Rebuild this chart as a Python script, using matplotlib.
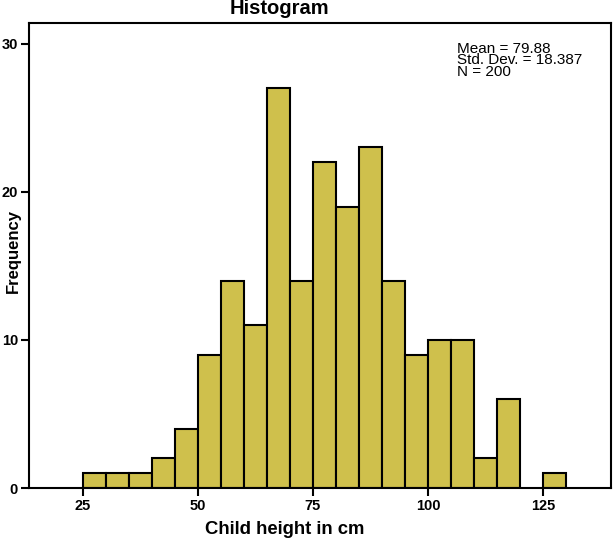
import matplotlib
matplotlib.use('Agg')
import matplotlib.pyplot as plt
import numpy as np

plt.rcParams['font.family'] = ['Liberation Sans', 'DejaVu Sans']

# bin left edges (width 5) and counts
bin_edges = [25, 30, 35, 40, 45, 50, 55, 60, 65, 70, 75, 80, 85, 90, 95, 100,
             105, 110, 115, 120, 125, 130]
counts = [1, 1, 1, 2, 4, 9, 14, 11, 27, 14, 22, 19, 23, 14, 9, 10, 10, 2, 6, 0, 1]
x_ticks = [25, 50, 75, 100, 125]
y_ticks = [0, 10, 20, 30]
stats_text = 'Mean = 79.88\nStd. Dev. = 18.387\nN = 200'

fig = plt.figure(figsize=(6.14, 5.39), dpi=100)
ax = fig.add_axes([29 / 614, 51 / 539, 582 / 614, 465 / 539])

left = np.array(bin_edges[:-1])
widths = np.diff(bin_edges)
heights = np.array(counts)
mask = heights > 0
ax.bar(left[mask], heights[mask], width=widths[mask], align='edge',
       color='#CFC04C', edgecolor='black', linewidth=1.5, zorder=2)

ax.set_xlim(13.3, 139.8)
ax.set_ylim(0, 31.4)
ax.set_xticks(x_ticks)
ax.set_yticks(y_ticks)
ax.tick_params(axis='both', direction='out', length=6, width=1.5,
               labelsize=10.5, pad=2)
for lbl in ax.get_xticklabels() + ax.get_yticklabels():
    lbl.set_fontweight('bold')
for s in ax.spines.values():
    s.set_linewidth(1.5)

# summary statistics box (SPSS style)
fig.text(457 / 614, 1 - 42 / 539, stats_text, fontsize=11, va='top',
         ha='left', linespacing=0.75)

fig.text(279 / 614, 1 - 9 / 539, 'Histogram', fontsize=14.5, fontweight='bold',
         ha='center', va='center')
fig.text(285 / 614, 1 - 529 / 539, 'Child height in cm', fontsize=13.3,
         fontweight='bold', ha='center', va='center')
fig.text(13 / 614, 1 - 251 / 539, 'Frequency', fontsize=12, fontweight='bold',
         ha='center', va='center', rotation=90)

plt.savefig('out.png', dpi=100)
